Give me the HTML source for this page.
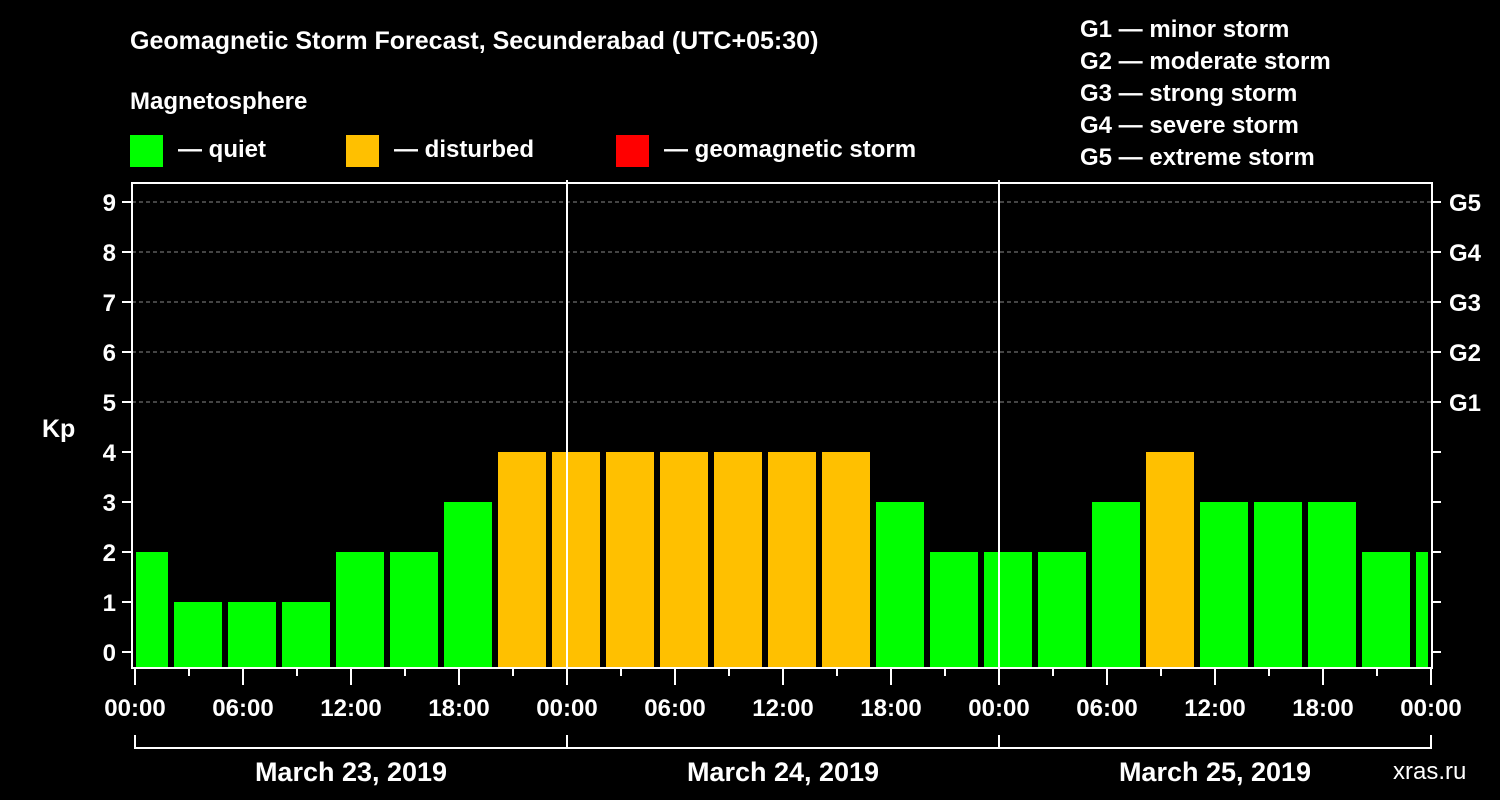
<!DOCTYPE html>
<html><head><meta charset="utf-8"><style>
html,body{margin:0;padding:0;background:#000;}
svg{display:block;font-family:"Liberation Sans",Arial,sans-serif;font-weight:bold;}
</style></head><body>
<svg id="chart" width="1500" height="800" viewBox="0 0 1500 800" xmlns="http://www.w3.org/2000/svg">
<rect width="1500" height="800" fill="#000"/>
<text x="130" y="49" fill="#fff" font-size="25">Geomagnetic Storm Forecast, Secunderabad (UTC+05:30)</text>
<text x="130" y="109" fill="#fff" font-size="24">Magnetosphere</text>
<g><rect x="130" y="135" width="33" height="32" fill="#00ff00"/><text x="178" y="157" fill="#fff" font-size="24">— quiet</text></g>
<g><rect x="346" y="135" width="33" height="32" fill="#ffc000"/><text x="394" y="157" fill="#fff" font-size="24">— disturbed</text></g>
<g><rect x="616" y="135" width="33" height="32" fill="#ff0000"/><text x="664" y="157" fill="#fff" font-size="24">— geomagnetic storm</text></g>
<g fill="#fff" font-size="24">
<text x="1080" y="37">G1 — minor storm</text>
<text x="1080" y="69">G2 — moderate storm</text>
<text x="1080" y="101">G3 — strong storm</text>
<text x="1080" y="133">G4 — severe storm</text>
<text x="1080" y="165">G5 — extreme storm</text>
</g>
<text x="42" y="437" fill="#fff" font-size="25">Kp</text>
<text x="1393" y="779" fill="#fff" font-size="24" font-weight="normal">xras.ru</text>
<g id="grid"></g>
<g id="bars"></g>
<g id="axes"></g>
</svg>
<script>
const kpValues = [2,1,1,1,2,2,3,4,4,4,4,4,4,4,3,2,2,2,3,4,3,3,3,2,2];
const yTicks = [0,1,2,3,4,5,6,7,8,9];
const gLabels = ["G1","G2","G3","G4","G5"];
const gLevels = [5,6,7,8,9];
const xTickLabels = ["00:00","06:00","12:00","18:00","00:00","06:00","12:00","18:00","00:00","06:00","12:00","18:00","00:00"];
const dayLabels = ["March 23, 2019","March 24, 2019","March 25, 2019"];

const NS="http://www.w3.org/2000/svg";
const X0=135, PX_PER_HOUR=18, LEFT=132, RIGHT=1432, TOP=183, BOTTOM=668;
const xScale = h => X0 + h*PX_PER_HOUR;
const yScale = v => 652 - v*50;
function mk(tag, attrs, parent){const e=document.createElementNS(NS,tag);for(const k in attrs)e.setAttribute(k,attrs[k]);parent.appendChild(e);return e;}
const grid=document.getElementById('grid'), bars=document.getElementById('bars'), axes=document.getElementById('axes');

yTicks.forEach(v=>{
  if(v>=5){const l=mk('line',{x1:LEFT,x2:RIGHT,y1:yScale(v),y2:yScale(v),stroke:'#888','stroke-dasharray':'4,3','stroke-width':1},grid);
  
  }
});

kpValues.forEach((v,i)=>{
  const c = xScale(0.5+3*i);
  let x1=c-24, x2=c+24;
  x1=Math.max(x1,LEFT+4); x2=Math.min(x2,RIGHT-4);
  const col = v>=5?'#ff0000':(v>=4?'#ffc000':'#00ff00');
  const r=mk('rect',{x:x1,y:yScale(v),width:x2-x1,height:BOTTOM-yScale(v),fill:col},bars);
  
  
});

// day separators
[1,2].forEach(d=>{
  const l=mk('line',{x1:xScale(24*d),x2:xScale(24*d),y1:180,y2:BOTTOM,stroke:'#fff','stroke-width':2},axes);
  
  
});
const frame=mk('rect',{x:LEFT,y:TOP,width:RIGHT-LEFT,height:BOTTOM-TOP,fill:'none',stroke:'#fff','stroke-width':2},axes);



yTicks.forEach(v=>{
  const y=yScale(v);
  mk('line',{x1:122,x2:LEFT,y1:y,y2:y,stroke:'#fff','stroke-width':2},axes);
  mk('line',{x1:RIGHT,x2:1441,y1:y,y2:y,stroke:'#fff','stroke-width':2},axes);
  const t=mk('text',{x:116,y:y+9,fill:'#fff','font-size':24,'text-anchor':'end'},axes);
  t.textContent=v;
  
  
});
gLabels.forEach((g,i)=>{
  const t=mk('text',{x:1449,y:yScale(gLevels[i])+9,fill:'#fff','font-size':24},axes);
  t.textContent=g;
  
  
});
for(let h=0;h<=72;h+=3){
  const x=xScale(h);
  mk('line',{x1:x,x2:x,y1:BOTTOM,y2:(h%6===0)?685:676,stroke:'#fff','stroke-width':2},axes);
}
xTickLabels.forEach((s,i)=>{
  const t=mk('text',{x:xScale(6*i),y:716,fill:'#fff','font-size':24,'text-anchor':'middle'},axes);
  t.textContent=s;
  
  
});
const br=mk('path',{d:`M${xScale(0)},735 V748 H${xScale(72)} V735 M${xScale(24)},735 V748 M${xScale(48)},735 V748`,stroke:'#fff','stroke-width':2,fill:'none'},axes);


dayLabels.forEach((s,i)=>{
  const t=mk('text',{x:xScale(24*i+12),y:781,fill:'#fff','font-size':27,'text-anchor':'middle'},axes);
  t.textContent=s;
  
  
});
</script>
</body></html>
